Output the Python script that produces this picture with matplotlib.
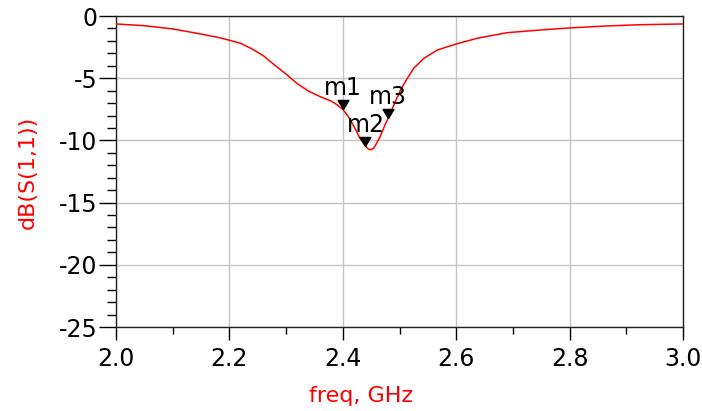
import numpy as np
import matplotlib
matplotlib.use("Agg")
import matplotlib.pyplot as plt
from matplotlib.ticker import MultipleLocator, FormatStrFormatter

plt.rcParams['axes.unicode_minus'] = False
plt.rcParams['font.family'] = ['DejaVu Sans']

# S11 response
freq = [2.00, 2.05, 2.10, 2.15, 2.18, 2.20, 2.22, 2.24, 2.26, 2.28, 2.30,
        2.32, 2.34, 2.36, 2.38, 2.39, 2.40, 2.41, 2.42, 2.43, 2.44, 2.445,
        2.45, 2.455, 2.46, 2.466, 2.475, 2.484, 2.493, 2.502, 2.514, 2.525,
        2.543, 2.567, 2.60, 2.637, 2.69, 2.75, 2.80, 2.866, 2.925, 3.00]
s11_db = [-0.64, -0.78, -1.04, -1.45, -1.72, -1.95, -2.2, -2.65, -3.2, -3.95, -4.67,
          -5.45, -6.05, -6.48, -6.85, -7.14, -7.5, -8.1, -8.9, -9.8, -10.45, -10.7,
          -10.75, -10.6, -10.2, -9.68, -8.7, -7.8, -6.85, -5.93, -5.0, -4.2,
          -3.4, -2.73, -2.25, -1.79, -1.34, -1.12, -0.96, -0.80, -0.70, -0.64]

marker_names = ['m1', 'm2', 'm3']
marker_freq = [2.40, 2.44, 2.48]
marker_db = [-7.5, -10.45, -8.2]

fig = plt.figure(figsize=(7.02, 4.11), dpi=100)
ax = fig.add_axes([116/702, 1-327/411, 567/702, 311/411])

ax.plot(freq, s11_db, color='red', lw=1.1, zorder=3)

# marker: downward triangle with its tip on the curve
tri = [(0, 0), (-0.6, 1), (0.6, 1), (0, 0)]
ax.plot(marker_freq, marker_db, linestyle='none', marker=tri, markersize=13,
        color='black', zorder=4)
for name, f, v in zip(marker_names, marker_freq, marker_db):
    ax.annotate(name, (f, v), xytext=(0, 10), textcoords='offset points',
                ha='center', va='baseline', fontsize=17, zorder=5)

ax.set_xlim(2.0, 3.0)
ax.set_ylim(-25, 0)
ax.xaxis.set_major_locator(MultipleLocator(0.2))
ax.xaxis.set_minor_locator(MultipleLocator(0.1))
ax.xaxis.set_major_formatter(FormatStrFormatter('%.1f'))
ax.yaxis.set_major_locator(MultipleLocator(5))
ax.yaxis.set_minor_locator(MultipleLocator(1))
ax.tick_params(axis='x', which='major', length=9.5, width=1, pad=5, labelsize=17)
ax.tick_params(axis='x', which='minor', length=5, width=1)
ax.tick_params(axis='y', which='major', length=12, width=1, pad=1.5, labelsize=17)
ax.tick_params(axis='y', which='minor', length=6.5, width=1)
ax.grid(True, which='major', color='#c4c4c4', lw=1)
for s in ax.spines.values():
    s.set_linewidth(1)
    s.set_color('#222222')

fig.text(361/702, 1-401.7/411, 'freq, GHz', color='red', fontsize=16,
         ha='center', va='baseline')
fig.text(28/702, 1-172/411, 'dB(S(1,1))', color='red', fontsize=16,
         ha='center', va='center', rotation=90)

fig.savefig('out.png', dpi=100)
